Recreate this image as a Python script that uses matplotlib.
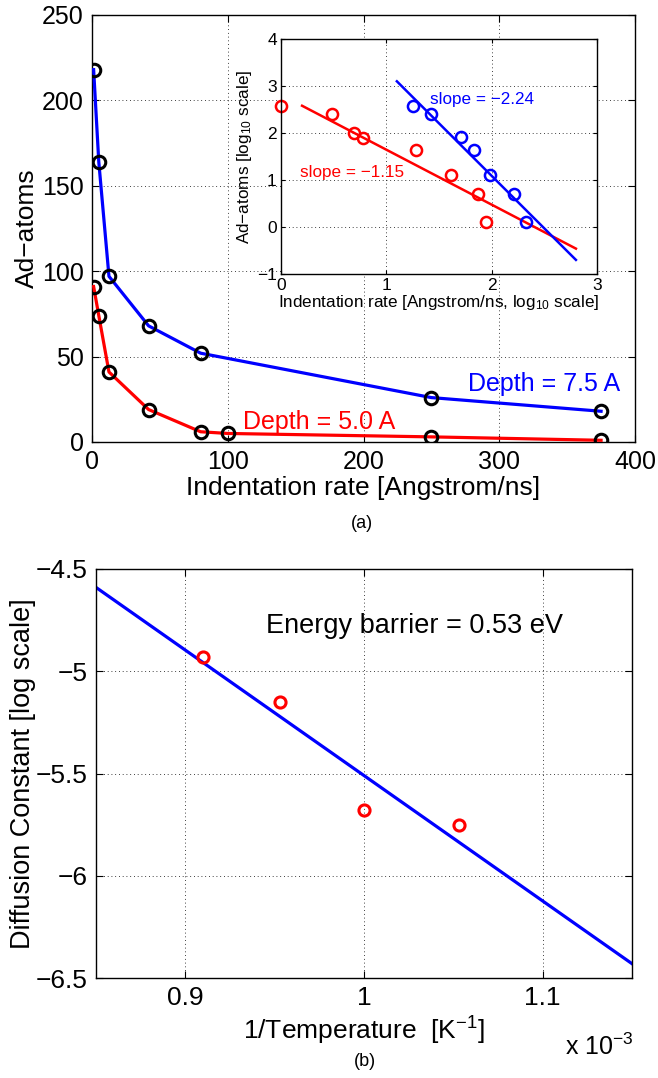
import numpy as np
import matplotlib
matplotlib.use("Agg")
import matplotlib.pyplot as plt
from matplotlib.ticker import FuncFormatter

plt.rcParams['font.family'] = ['Liberation Sans', 'DejaVu Sans']
plt.rcParams['mathtext.fontset'] = 'custom'
plt.rcParams['mathtext.rm'] = 'Liberation Sans'
plt.rcParams['mathtext.it'] = 'Liberation Sans'

# panel (a): ad-atoms vs indentation rate
rate_75 = [1.2, 5, 12.5, 41.7, 80, 250, 375]
atoms_75 = [218, 164, 97, 68, 52, 26, 18]
rate_50 = [1.2, 5, 12.5, 41.7, 80, 100, 250, 375]
atoms_50 = [91, 74, 41, 19, 6, 5, 3, 1]

# inset: log10 values
log_rate_red = [0.0, 0.48, 0.69, 0.78, 1.28, 1.61, 1.87, 1.95]
log_atoms_red = [2.58, 2.41, 2.0, 1.9, 1.63, 1.1, 0.7, 0.1]
log_rate_blue = [1.25, 1.42, 1.71, 1.83, 1.98, 2.21, 2.33]
log_atoms_blue = [2.58, 2.4, 1.91, 1.63, 1.1, 0.7, 0.1]
fit_red_x = [0.2, 2.8]
fit_red_y = [2.58, -0.46]
fit_blue_x = [1.1, 2.8]
fit_blue_y = [3.1, -0.7]

# panel (b): diffusion constant vs 1/T (units of 1e-3 1/K)
inv_temp = [0.91, 0.953, 1.0, 1.053]
diff_const = [-4.93, -5.15, -5.68, -5.75]
fit_inv_temp = [0.85, 1.15]
fit_diff = [-4.59, -6.43]


def fmt(v, pos):
    s = '%g' % v
    return s.replace('-', '\u2212')


def style(ax, size):
    ax.tick_params(direction='in', top=True, right=True, length=5,
                   width=0.8, labelsize=size, pad=6)
    ax.grid(True, linestyle=(0, (1, 3.5)), color='k', linewidth=0.6)
    for s in ax.spines.values():
        s.set_linewidth(1.0)
    ax.xaxis.set_major_formatter(FuncFormatter(fmt))
    ax.yaxis.set_major_formatter(FuncFormatter(fmt))


W, H = 658, 1078
fig = plt.figure(figsize=(W / 100, H / 100), dpi=100)

# main axes (a)
ax = fig.add_axes([92 / W, 1 - 442 / H, 543 / W, 427 / H])
ax.plot(rate_75, atoms_75, color='b', lw=2.3, zorder=3)
ax.plot(rate_50, atoms_50, color='r', lw=2.3, zorder=3)
ax.plot(rate_75, atoms_75, 'o', mfc='none', mec='k', mew=2.2, ms=9, zorder=4)
ax.plot(rate_50, atoms_50, 'o', mfc='none', mec='k', mew=2.2, ms=9, zorder=4)
ax.set_xlim(0, 400)
ax.set_ylim(0, 250)
ax.set_xticks([0, 100, 200, 300, 400])
ax.set_yticks([0, 50, 100, 150, 200, 250])
style(ax, 18)
ax.set_xlabel('Indentation rate [Angstrom/ns]', fontsize=19, labelpad=1)
ax.set_ylabel('Ad\u2212atoms', fontsize=19, labelpad=2)
ax.text(277, 34, 'Depth = 7.5 A', color='b', fontsize=18, va='center')
ax.text(111, 11.5, 'Depth = 5.0 A', color='r', fontsize=18, va='center')
fig.text(362 / W, 1 - 523 / H, '(a)', fontsize=13, ha='center', va='center')

# inset
ins = fig.add_axes([281 / W, 1 - 274 / H, 316 / W, 235 / H])
ins.plot(fit_red_x, fit_red_y, color='r', lw=1.8)
ins.plot(fit_blue_x, fit_blue_y, color='b', lw=1.8)
ins.plot(log_rate_red, log_atoms_red, 'o', mfc='none', mec='r', mew=1.8, ms=8,
         clip_on=False)
ins.plot(log_rate_blue, log_atoms_blue, 'o', mfc='none', mec='b', mew=1.8, ms=8)
ins.set_xlim(0, 3)
ins.set_ylim(-1, 4)
ins.set_xticks([0, 1, 2, 3])
ins.set_yticks([-1, 0, 1, 2, 3, 4])
style(ins, 12.5)
ins.tick_params(length=3, pad=3)
ins.set_xlabel('Indentation rate [Angstrom/ns, log$_{10}$ scale]', fontsize=12.3,
               labelpad=0)
ins.set_ylabel('Ad\u2212atoms [log$_{10}$ scale]', fontsize=12.3, labelpad=2)
ins.text(1.41, 2.72, 'slope = \u22122.24', color='b', fontsize=12.3, va='center')
ins.text(0.18, 1.17, 'slope = \u22121.15', color='r', fontsize=12.3, va='center')

# panel (b)
bx = fig.add_axes([96 / W, 1 - 978 / H, 536 / W, 409 / H])
bx.plot(fit_inv_temp, fit_diff, color='b', lw=2.3)
bx.plot(inv_temp, diff_const, 'o', mfc='none', mec='r', mew=2.2, ms=8)
bx.set_xlim(0.85, 1.15)
bx.set_ylim(-6.5, -4.5)
bx.set_xticks([0.9, 1.0, 1.1])
bx.set_yticks([-6.5, -6, -5.5, -5, -4.5])
style(bx, 19)
bx.set_xlabel('1/Temperature  [K$^{\u22121}$]', fontsize=19, labelpad=3)
bx.set_ylabel('Diffusion Constant [log scale]', fontsize=19.5, labelpad=0)
bx.text(0.945, -4.78, 'Energy barrier = 0.53 eV', fontsize=19.5, va='center')
fig.text(634 / W, 1 - 1047 / H, 'x 10$^{\u22123}$', fontsize=18, ha='right',
         va='center')
fig.text(365 / W, 1 - 1062 / H, '(b)', fontsize=13, ha='center', va='center')

fig.savefig('out.png', dpi=100)
